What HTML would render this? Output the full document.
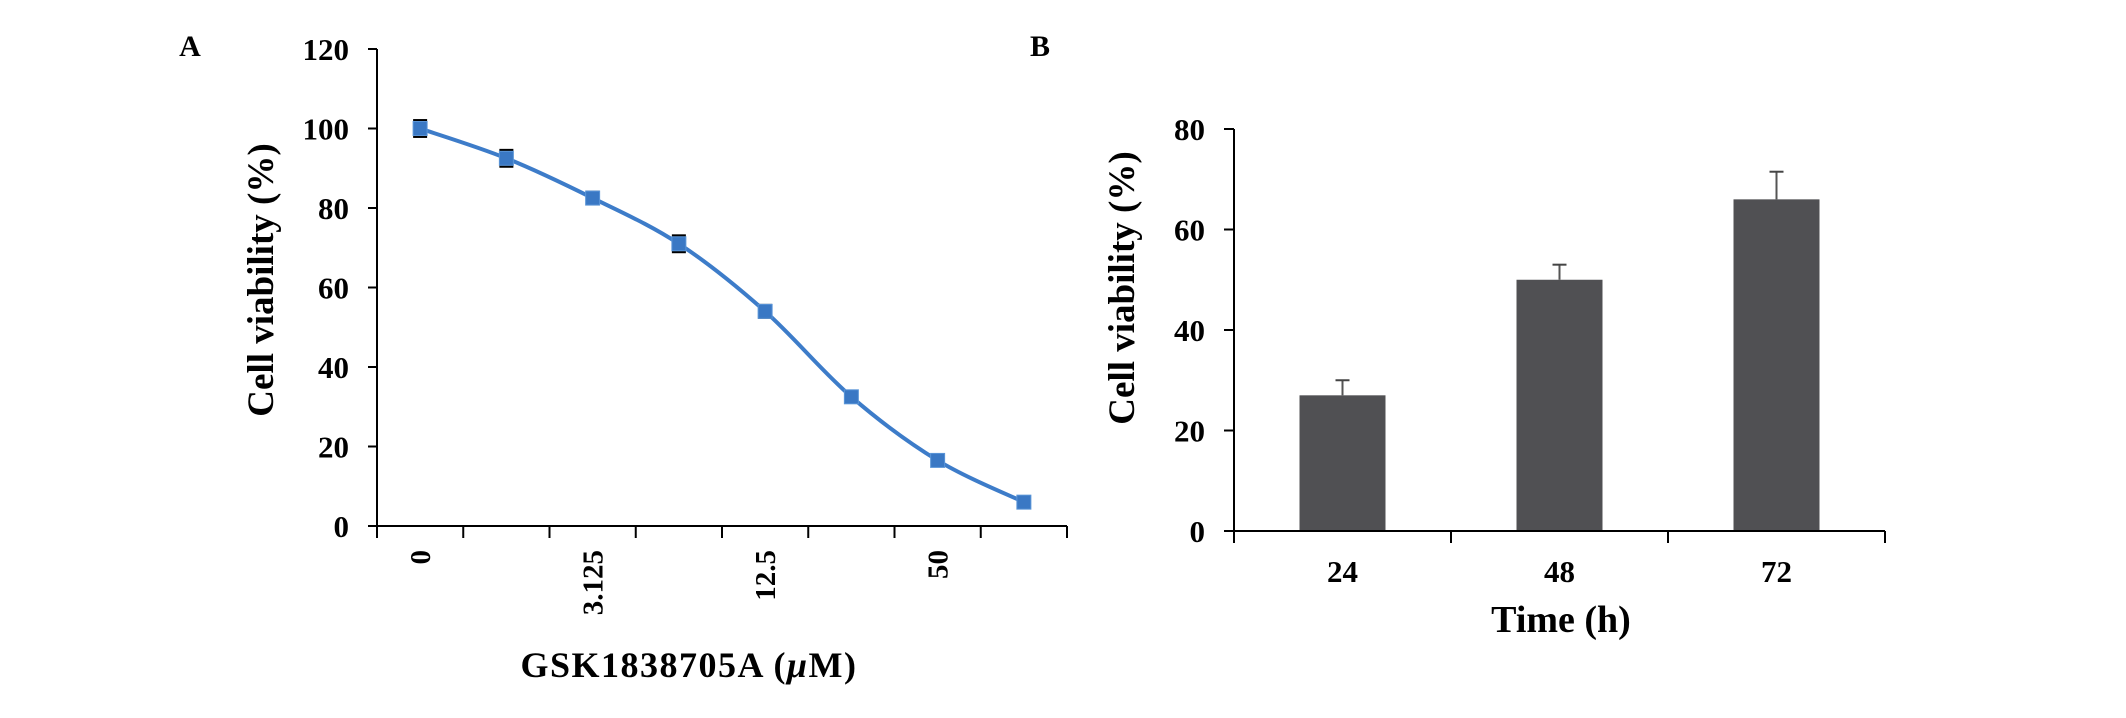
<!DOCTYPE html>
<html><head><meta charset="utf-8"><style>
html,body{margin:0;padding:0;background:#fff;}
svg{display:block;font-family:"Liberation Serif",serif;font-weight:bold;}
</style></head><body>
<svg id="chart" width="2126" height="718" viewBox="0 0 2126 718" xmlns="http://www.w3.org/2000/svg">
<text x="190" y="56" font-size="30" text-anchor="middle">A</text>
<text x="1040" y="56" font-size="30" text-anchor="middle">B</text>
<g id="pa"></g>
<g id="pb"></g>
</svg>
<script>
const aCategories = ["0", "", "3.125", "", "12.5", "", "50", ""];
const aValues = [100, 92.5, 82.5, 71, 54, 32.5, 16.5, 6];
const aErrors = [2, 2, 1.5, 2, 1.5, 1, 1, 1];
const aTicks = [0, 20, 40, 60, 80, 100, 120];
const bCategories = ["24", "48", "72"];
const bValues = [27, 50, 66];
const bErrors = [3, 3, 5.5];
const bTicks = [0, 20, 40, 60, 80];

const NS = "http://www.w3.org/2000/svg";
function mk(parent, tag, attrs, text) {
  const e = document.createElementNS(NS, tag);
  for (const k in attrs) e.setAttribute(k, attrs[k]);
  if (text !== undefined) e.textContent = text;
  parent.appendChild(e);
  return e;
}

// Panel A
const pa = document.getElementById("pa");
const aX0 = 377, aX1 = 1067, aY0 = 526, aYTop = 49;
const ay = v => aY0 - (v / 120) * (aY0 - aYTop);
const aStep = (aX1 - aX0) / aCategories.length;
const ax = i => aX0 + aStep * (i + 0.5);
let e;
e = mk(pa, "line", {x1: aX0, y1: aYTop, x2: aX0, y2: aY0, stroke: "#000", "stroke-width": 2});
 
e = mk(pa, "line", {x1: aX0, y1: aY0, x2: aX1, y2: aY0, stroke: "#000", "stroke-width": 2});
 
aTicks.forEach(t => {
  mk(pa, "line", {x1: aX0 - 9, y1: ay(t), x2: aX0, y2: ay(t), stroke: "#000", "stroke-width": 2});
  e = mk(pa, "text", {x: 349, y: ay(t) + 11, "font-size": 31, "text-anchor": "end"}, t);
   
});
for (let i = 0; i <= aCategories.length; i++) {
  const x = aX0 + aStep * i;
  mk(pa, "line", {x1: x, y1: aY0, x2: x, y2: aY0 + 12, stroke: "#000", "stroke-width": 2});
}
aCategories.forEach((c, i) => {
  if (!c) return;
  e = mk(pa, "text", {x: 0, y: 0, "font-size": 29, "text-anchor": "end", transform: `translate(${ax(i) + 10},550) rotate(-90)`}, c);
   
});
const pts = aValues.map((v, i) => [ax(i), ay(v)]);
let d = `M${pts[0][0]},${pts[0][1]}`;
for (let i = 0; i < pts.length - 1; i++) {
  const p0 = pts[Math.max(0, i - 1)], p1 = pts[i], p2 = pts[i + 1], p3 = pts[Math.min(pts.length - 1, i + 2)];
  const c1 = [p1[0] + (p2[0] - p0[0]) / 6, p1[1] + (p2[1] - p0[1]) / 6];
  const c2 = [p2[0] - (p3[0] - p1[0]) / 6, p2[1] - (p3[1] - p1[1]) / 6];
  d += ` C${c1[0]},${c1[1]} ${c2[0]},${c2[1]} ${p2[0]},${p2[1]}`;
}
e = mk(pa, "path", {d: d, fill: "none", stroke: "#3d7cc9", "stroke-width": 4});
 
aValues.forEach((v, i) => {
  const x = ax(i), y = ay(v), er = aErrors[i];
  mk(pa, "line", {x1: x, y1: ay(v + er), x2: x, y2: ay(v - er), stroke: "#000", "stroke-width": 2});
  mk(pa, "line", {x1: x - 7, y1: ay(v + er), x2: x + 7, y2: ay(v + er), stroke: "#000", "stroke-width": 3});
  mk(pa, "line", {x1: x - 7, y1: ay(v - er), x2: x + 7, y2: ay(v - er), stroke: "#000", "stroke-width": 3});
  e = mk(pa, "rect", {x: x - 7, y: y - 7, width: 14, height: 14, fill: "#3a78c4", stroke: "#5a95d8", "stroke-width": 1});
   
});
e = mk(pa, "text", {x: 0, y: 0, "font-size": 37, "text-anchor": "middle", transform: "translate(273,280) rotate(-90)"}, "Cell viability (%)");
 
e = mk(pa, "text", {x: 689, y: 677, "font-size": 36, "text-anchor": "middle", "letter-spacing": "1.5", "xml:space": "preserve"});
e.innerHTML = 'GSK1838705A  (<tspan font-style="italic">μ</tspan>M)';
 

// Panel B
const pb = document.getElementById("pb");
const bX0 = 1234, bX1 = 1885, bY0 = 531, bYTop = 129;
const by = v => bY0 - (v / 80) * (bY0 - bYTop);
const bStep = (bX1 - bX0) / bCategories.length;
const bx = i => bX0 + bStep * (i + 0.5);
bValues.forEach((v, i) => {
  const x = bx(i), er = bErrors[i];
  mk(pb, "line", {x1: x, y1: by(v), x2: x, y2: by(v + er), stroke: "#555", "stroke-width": 2});
  mk(pb, "line", {x1: x - 7, y1: by(v + er), x2: x + 7, y2: by(v + er), stroke: "#444", "stroke-width": 2});
  e = mk(pb, "rect", {x: x - 43, y: by(v), width: 86, height: bY0 - by(v), fill: "#505053"});
   
  e = mk(pb, "text", {x: x, y: 582, "font-size": 31, "text-anchor": "middle"}, bCategories[i]);
   
});
e = mk(pb, "line", {x1: bX0, y1: bYTop, x2: bX0, y2: bY0, stroke: "#000", "stroke-width": 2});
 
e = mk(pb, "line", {x1: bX0, y1: bY0, x2: bX1, y2: bY0, stroke: "#000", "stroke-width": 2});
 
bTicks.forEach(t => {
  mk(pb, "line", {x1: bX0 - 10, y1: by(t), x2: bX0, y2: by(t), stroke: "#000", "stroke-width": 2});
  e = mk(pb, "text", {x: 1205, y: by(t) + 11, "font-size": 31, "text-anchor": "end"}, t);
   
});
for (let i = 0; i <= bCategories.length; i++) {
  const x = bX0 + bStep * i;
  mk(pb, "line", {x1: x, y1: bY0, x2: x, y2: bY0 + 12, stroke: "#000", "stroke-width": 2});
}
e = mk(pb, "text", {x: 0, y: 0, "font-size": 37, "text-anchor": "middle", transform: "translate(1134,288) rotate(-90)"}, "Cell viability (%)");
 
e = mk(pb, "text", {x: 1561, y: 632, "font-size": 38, "text-anchor": "middle", "xml:space": "preserve"}, "Time  (h)");
 
</script>
</body></html>
